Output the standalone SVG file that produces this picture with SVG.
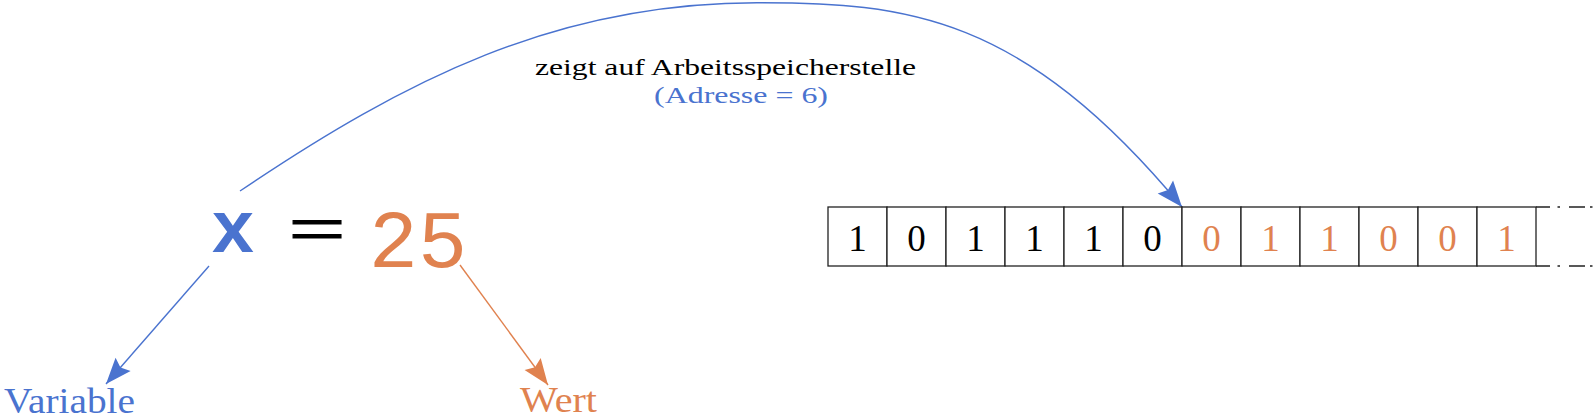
<svg xmlns="http://www.w3.org/2000/svg" width="1596" height="418" viewBox="0 0 1596 418">
<style>
.serif{font-family:"Liberation Serif","DejaVu Serif",serif}
.mono{font-family:"Liberation Mono","DejaVu Sans Mono",monospace}
.blue{fill:#4a73cf}
.orange{fill:#e0824f}
.blk{fill:#000}
.cell{fill:#fff;stroke:#222;stroke-width:1.3}
.digit{font-family:"Liberation Serif","DejaVu Serif",serif;font-size:37px;text-anchor:middle}
.conn{fill:none;stroke-width:1.4}
</style>
<defs>
<marker id="ahB" markerUnits="userSpaceOnUse" markerWidth="30" markerHeight="24" viewBox="-27 -12 30 24" refX="0" refY="0" orient="auto">
<path d="M0,0 L-26,-10 L-22,0 L-26,10 Z" fill="#4a73cf"/>
</marker>
<marker id="ahO" markerUnits="userSpaceOnUse" markerWidth="30" markerHeight="24" viewBox="-27 -12 30 24" refX="0" refY="0" orient="auto">
<path d="M0,0 L-26,-10 L-22,0 L-26,10 Z" fill="#e0824f"/>
</marker>
</defs>

<g id="connectors">
<path class="conn" stroke="#4a73cf" d="M240,191 C406,79 557,2.7 757,2.7 C907,2.7 1022,14.5 1182,207" marker-end="url(#ahB)"/>
<path class="conn" stroke="#4a73cf" d="M209,266 L106,384" marker-end="url(#ahB)"/>
<path class="conn" stroke="#e0824f" d="M460,265 L548,385" marker-end="url(#ahO)"/>
</g>

<g id="pointer-label">
<text class="serif blk" x="725.5" y="75" font-size="24" text-anchor="middle" textLength="381" lengthAdjust="spacingAndGlyphs">zeigt auf Arbeitsspeicherstelle</text>
<text class="serif blue" x="741" y="103" font-size="24" text-anchor="middle" textLength="174" lengthAdjust="spacingAndGlyphs">(Adresse = 6)</text>
</g>

<g id="var-x">
<text class="mono blue" x="233" y="252" font-size="74" font-weight="bold" text-anchor="middle">x</text>
</g>
<g id="equals">
<text class="serif blk" x="317" y="253" font-size="70" text-anchor="middle" textLength="58" lengthAdjust="spacingAndGlyphs" stroke="#000" stroke-width="0.8">=</text>
</g>
<g id="value-25">
<text class="mono orange" x="418" y="267" font-size="82" text-anchor="middle">25</text>
</g>

<g id="label-variable">
<text class="serif blue" x="4" y="413" font-size="35" textLength="131" lengthAdjust="spacingAndGlyphs">Variable</text>
</g>
<g id="label-wert">
<text class="serif orange" x="520" y="412" font-size="35" textLength="77" lengthAdjust="spacingAndGlyphs">Wert</text>
</g>

<g id="memory">
<rect class="cell" x="828" y="207" width="59" height="59"/>
<rect class="cell" x="887" y="207" width="59" height="59"/>
<rect class="cell" x="946" y="207" width="59" height="59"/>
<rect class="cell" x="1005" y="207" width="59" height="59"/>
<rect class="cell" x="1064" y="207" width="59" height="59"/>
<rect class="cell" x="1123" y="207" width="59" height="59"/>
<rect class="cell" x="1182" y="207" width="59" height="59"/>
<rect class="cell" x="1241" y="207" width="59" height="59"/>
<rect class="cell" x="1300" y="207" width="59" height="59"/>
<rect class="cell" x="1359" y="207" width="59" height="59"/>
<rect class="cell" x="1418" y="207" width="59" height="59"/>
<rect class="cell" x="1477" y="207" width="59" height="59"/>
<path d="M1536,207 H1596 M1536,266 H1596" fill="none" stroke="#222" stroke-width="1.3" stroke-dasharray="14 7.5 2.5 9 16 5 2.5 40"/>
<text class="digit blk" x="857.5" y="251">1</text>
<text class="digit blk" x="916.5" y="251">0</text>
<text class="digit blk" x="975.5" y="251">1</text>
<text class="digit blk" x="1034.5" y="251">1</text>
<text class="digit blk" x="1093.5" y="251">1</text>
<text class="digit blk" x="1152.5" y="251">0</text>
<text class="digit orange" x="1211.5" y="251">0</text>
<text class="digit orange" x="1270.5" y="251">1</text>
<text class="digit orange" x="1329.5" y="251">1</text>
<text class="digit orange" x="1388.5" y="251">0</text>
<text class="digit orange" x="1447.5" y="251">0</text>
<text class="digit orange" x="1506.5" y="251">1</text>
</g>
</svg>
